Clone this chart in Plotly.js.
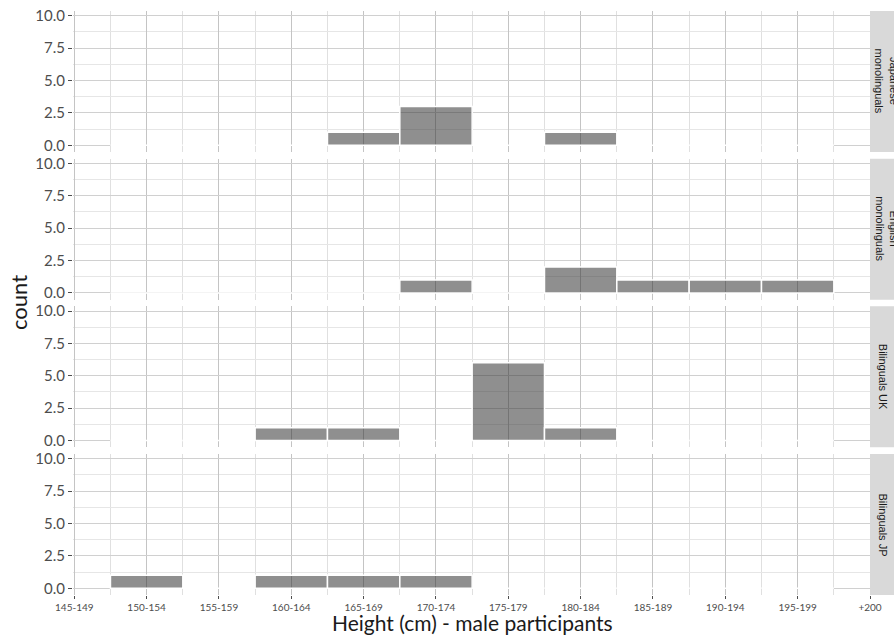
<!DOCTYPE html>
<html>
<head>
<meta charset="utf-8">
<script src="https://cdn.plot.ly/plotly-3.0.1.min.js"></script>
<style>html,body{margin:0;padding:0;background:#fff;}#chart{width:894px;height:637px;}</style>
</head>
<body>
<div id="chart"></div>
<script>
// Height bins (cm)
const categories = ["145-149","150-154","155-159","160-164","165-169","170-174","175-179","180-184","185-189","190-194","195-199","+200"];
// Panel groups (top to bottom)
const groups = ["Japanese<br>monolinguals", "English<br>monolinguals", "Bilinguals UK", "Bilinguals JP"];
// Counts per bin (null = outside binned range)
const japaneseMono = [null, 0, 0, 0, 1, 3, 0, 1, 0, 0, 0, null];
const englishMono  = [null, 0, 0, 0, 0, 1, 0, 2, 1, 1, 1, null];
const bilingualsUK = [null, 0, 0, 1, 1, 0, 6, 1, 0, 0, 0, null];
const bilingualsJP = [null, 1, 0, 1, 1, 1, 0, 0, 0, 0, 0, null];
const yTicks = [0, 2.5, 5, 7.5, 10];

const series = [japaneseMono, englishMono, bilingualsUK, bilingualsJP];
const xIdx = categories.map((c, i) => i);

const H = 584, ph = 141, gap = (H - 4 * ph) / 3;
const domains = [0, 1, 2, 3].map(k => {
  const top = H - k * (ph + gap);
  return [(top - ph) / H, top / H];
});

const traces = series.map((vals, k) => ({
  type: 'bar',
  x: xIdx,
  y: vals,
  width: 1,
  xaxis: 'x',
  yaxis: k === 0 ? 'y' : 'y' + (k + 1),
  marker: {color: 'rgba(51,51,51,0.55)', line: {color: '#ffffff', width: 1.5}},
  hoverinfo: 'skip',
  showlegend: false
}));

const tickFont = {family: 'Lato, sans-serif', size: 15, color: '#4d4d4d'};
const layout = {
  width: 894, height: 637,
  margin: {l: 73, r: 24, t: 11, b: 42},
  paper_bgcolor: '#ffffff', plot_bgcolor: '#ffffff',
  bargap: 0,
  xaxis: {
    range: [-0.018, 11.0],
    tickmode: 'array', tickvals: xIdx, ticktext: categories,
    ticks: 'outside', ticklen: 3, tickcolor: '#4d4d4d', tickwidth: 1,
    tickfont: {family: 'Lato, sans-serif', size: 10, color: '#4d4d4d'},
    showgrid: true, gridcolor: '#c4c4c4', gridwidth: 1,
    minor: {tickmode: 'linear', tick0: 0.5, dtick: 1, showgrid: true, gridcolor: '#e0e0e0', gridwidth: 1, ticks: ''},
    zeroline: false, showline: false, anchor: 'y4'
  },
  shapes: [], annotations: []
};

domains.forEach((d, k) => {
  const name = k === 0 ? 'yaxis' : 'yaxis' + (k + 1);
  layout[name] = {
    domain: d,
    range: [-0.52, 10.36],
    tickmode: 'array', tickvals: yTicks, ticktext: yTicks.map(v => v.toFixed(1)),
    ticks: 'outside', ticklen: 4, tickcolor: '#4d4d4d', tickwidth: 1,
    tickfont: tickFont,
    showgrid: true, gridcolor: '#d0d0d0', gridwidth: 1,
    minor: {tickmode: 'linear', tick0: 1.25, dtick: 2.5, showgrid: true, gridcolor: '#e6e6e6', gridwidth: 1, ticks: ''},
    zeroline: false, showline: false, anchor: 'x', fixedrange: true
  };
  layout.shapes.push({
    type: 'rect', xref: 'paper', yref: 'paper',
    x0: 1.0, x1: 1.06, y0: d[0], y1: d[1],
    fillcolor: '#d9d9d9', line: {width: 0}, layer: 'below'
  });
  const twoLine = groups[k].indexOf('<br>') >= 0;
  layout.annotations.push({
    xref: 'paper', yref: 'paper',
    x: twoLine ? (887 - 73) / 797 : (883 - 73) / 797,
    y: (d[0] + d[1]) / 2,
    xanchor: 'center', yanchor: 'middle',
    text: groups[k], textangle: 90, showarrow: false,
    font: {family: 'Liberation Sans, Arial, sans-serif', size: 11, color: '#1a1a1a'}
  });
});

// axis titles
layout.annotations.push({
  xref: 'paper', yref: 'paper', x: (472 - 73) / 797, y: (595 - 622) / 584,
  xanchor: 'center', yanchor: 'middle', borderpad: 0,
  text: 'Height (cm) - male participants', showarrow: false,
  font: {family: 'Lato, sans-serif', size: 21, color: '#1a1a1a'}
});
layout.annotations.push({
  xref: 'paper', yref: 'paper', x: -55 / 797, y: 0.5,
  xanchor: 'center', yanchor: 'middle',
  text: 'count', textangle: -90, showarrow: false,
  font: {family: 'Lato, sans-serif', size: 22, color: '#1a1a1a'}
});

Plotly.newPlot('chart', traces, layout, {displayModeBar: false, staticPlot: true});
</script>
</body>
</html>
